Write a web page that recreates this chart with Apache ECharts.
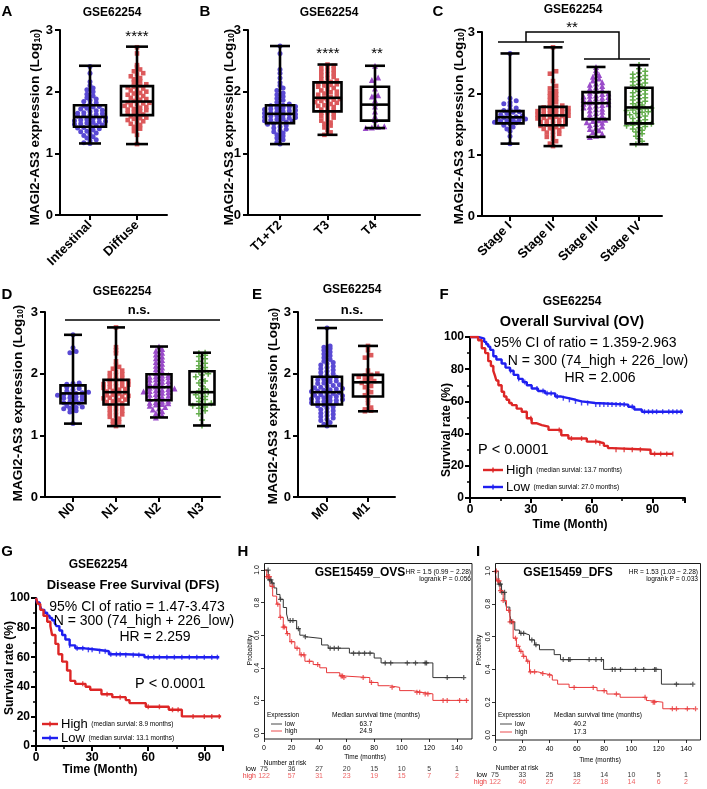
<!DOCTYPE html>
<html><head><meta charset="utf-8">
<script src="https://cdn.jsdelivr.net/npm/echarts@6/dist/echarts.min.js"></script>
<style>html,body{margin:0;padding:0;background:#fff}#c{width:707px;height:789px}</style>
</head><body><div id="c"></div><script>
// ---------------- DATA ----------------
const catsA = ['Intestinal', 'Diffuse'];
const boxA = [[1.16, 1.43, 1.59, 1.78, 2.42], [1.15, 1.62, 1.84, 2.09, 2.73]];
const ptsIntestinal = [1.16,1.17,1.20,1.22,1.25,1.27,1.29,1.31,1.33,1.35,1.36,1.38,1.40,1.41,1.42,
 1.44,1.45,1.46,1.47,1.48,1.49,1.50,1.51,1.52,1.53,1.54,1.55,1.56,1.57,1.58,
 1.60,1.61,1.62,1.63,1.64,1.65,1.66,1.68,1.69,1.70,1.72,1.73,1.75,1.76,1.77,
 1.80,1.82,1.84,1.86,1.88,1.90,1.93,1.96,2.00,2.03,2.06,2.10,2.16,2.30,2.41];
const ptsDiffuse = [1.15,1.30,1.36,1.40,1.43,1.46,1.48,1.50,1.52,1.54,1.56,1.57,1.58,1.60,1.61,
 1.63,1.65,1.66,1.68,1.70,1.71,1.72,1.74,1.75,1.77,1.78,1.80,1.81,1.82,1.83,
 1.85,1.87,1.88,1.90,1.92,1.93,1.95,1.97,1.98,2.00,2.02,2.03,2.05,2.07,2.08,
 2.10,2.12,2.15,2.17,2.20,2.22,2.25,2.28,2.30,2.33,2.36,2.40,2.43,2.62,2.72];

const catsB = ['T1+T2', 'T3', 'T4'];
const boxB = [[1.15, 1.49, 1.64, 1.78, 2.74], [1.30, 1.68, 1.90, 2.15, 2.44], [1.41, 1.53, 1.79, 2.08, 2.42]];
const ptsT12 = [1.15,1.18,1.22,1.25,1.28,1.30,1.33,1.35,1.37,1.39,1.41,1.43,1.45,1.47,1.48,
 1.50,1.51,1.52,1.53,1.54,1.55,1.56,1.57,1.58,1.59,1.60,1.61,1.62,1.63,1.635,
 1.65,1.66,1.67,1.68,1.69,1.70,1.71,1.72,1.73,1.74,1.75,1.76,1.77,1.775,1.78,
 1.80,1.83,1.86,1.89,1.92,1.95,1.98,2.02,2.06,2.10,2.15,2.22,2.30,2.36,2.62,2.74];
const ptsT3 = [1.30,1.34,1.38,1.42,1.45,1.48,1.50,1.53,1.55,1.58,1.60,1.62,1.64,1.66,1.67,
 1.69,1.71,1.73,1.75,1.77,1.78,1.80,1.82,1.83,1.85,1.86,1.87,1.88,1.89,1.895,
 1.91,1.93,1.95,1.97,1.99,2.00,2.02,2.04,2.06,2.08,2.10,2.11,2.12,2.13,2.14,
 2.16,2.18,2.20,2.22,2.24,2.26,2.28,2.30,2.32,2.34,2.36,2.38,2.40,2.42,2.44];
const ptsT4 = [2.42,2.23,2.19,2.05,1.95,1.94,1.92,1.86,1.81,1.76,1.68,1.60,1.54,1.44,1.43,1.42,1.41];

const catsC = ['Stage I', 'Stage II', 'Stage III', 'Stage IV'];
const boxC = [[1.18, 1.51, 1.61, 1.71, 2.65], [1.14, 1.48, 1.64, 1.78, 2.75], [1.29, 1.58, 1.84, 2.02, 2.43], [1.17, 1.51, 1.77, 2.09, 2.46]];
const ptsStageI = [1.18,1.30,1.38,1.42,1.45,1.48,1.50,1.52,1.53,1.54,1.55,1.56,1.57,1.58,1.59,1.60,
 1.61,1.62,1.63,1.65,1.67,1.69,1.70,1.72,1.74,1.76,1.80,1.83,1.85,1.88,1.92,2.65];
const ptsStageII = [1.14,1.18,1.22,1.26,1.29,1.32,1.34,1.36,1.38,1.40,1.42,1.43,1.45,1.46,1.47,
 1.49,1.50,1.51,1.52,1.53,1.55,1.56,1.57,1.58,1.59,1.60,1.61,1.62,1.63,1.635,
 1.65,1.66,1.67,1.68,1.69,1.70,1.71,1.72,1.73,1.74,1.75,1.76,1.77,1.775,1.78,
 1.80,1.83,1.86,1.89,1.92,1.95,1.98,2.01,2.04,2.08,2.12,2.20,2.32,2.36,2.75];
const ptsStageIII = [1.29,1.31,1.34,1.37,1.40,1.42,1.44,1.46,1.48,1.50,1.52,1.53,1.55,1.56,1.57,
 1.60,1.62,1.64,1.66,1.68,1.70,1.72,1.74,1.75,1.77,1.78,1.80,1.81,1.82,1.83,
 1.85,1.86,1.87,1.88,1.89,1.90,1.92,1.93,1.94,1.95,1.96,1.97,1.99,2.00,2.01,
 2.04,2.06,2.08,2.10,2.12,2.14,2.16,2.18,2.21,2.24,2.27,2.30,2.34,2.38,2.43];
const ptsStageIV = [1.17,1.22,1.26,1.30,1.34,1.37,1.40,1.42,1.44,1.46,1.47,1.48,1.49,1.50,1.505,
 1.53,1.55,1.57,1.59,1.61,1.63,1.65,1.67,1.69,1.70,1.72,1.73,1.74,1.75,1.76,
 1.79,1.81,1.83,1.85,1.87,1.89,1.91,1.93,1.95,1.97,1.99,2.01,2.03,2.05,2.07,
 2.11,2.13,2.15,2.17,2.19,2.21,2.23,2.25,2.27,2.29,2.31,2.33,2.36,2.40,2.46];

const catsD = ['N0', 'N1', 'N2', 'N3'];
const boxD = [[1.19, 1.52, 1.68, 1.81, 2.63], [1.15, 1.50, 1.70, 1.90, 2.75], [1.29, 1.57, 1.78, 1.99, 2.44], [1.16, 1.50, 1.70, 2.04, 2.34]];
const ptsN0 = [2.63,2.42,2.36,2.34,1.85,1.84,1.83,1.82,1.80,1.78,1.76,1.74,1.72,1.70,1.69,1.68,1.67,1.66,
 1.65,1.63,1.62,1.61,1.60,1.58,1.56,1.54,1.53,1.52,1.50,1.48,1.46,1.45,1.44,1.43,1.40,1.38,1.19];
const ptsN1 = [1.15,1.18,1.21,1.24,1.27,1.30,1.32,1.34,1.36,1.38,1.40,1.42,1.44,1.46,1.48,
 1.51,1.52,1.54,1.55,1.57,1.58,1.60,1.61,1.62,1.63,1.64,1.65,1.66,1.68,1.69,
 1.71,1.72,1.74,1.75,1.77,1.78,1.79,1.80,1.82,1.83,1.84,1.85,1.87,1.88,1.89,
 1.91,1.93,1.95,1.97,1.99,2.01,2.03,2.05,2.08,2.11,2.14,2.20,2.33,2.38,2.43,2.75];
const ptsN2 = [1.29,1.33,1.36,1.39,1.42,1.44,1.46,1.48,1.50,1.51,1.52,1.53,1.54,1.55,1.56,
 1.59,1.61,1.63,1.64,1.66,1.67,1.69,1.70,1.71,1.72,1.73,1.74,1.75,1.76,1.77,
 1.79,1.81,1.82,1.84,1.85,1.87,1.88,1.90,1.91,1.92,1.94,1.95,1.96,1.97,1.98,
 2.01,2.04,2.07,2.10,2.13,2.16,2.19,2.22,2.25,2.28,2.31,2.34,2.37,2.40,2.44];
const ptsN3 = [1.16,1.25,1.35,1.40,1.44,1.46,1.48,1.49,1.50,1.52,1.55,1.58,1.60,1.63,1.66,1.68,1.70,1.72,
 1.75,1.80,1.85,1.88,1.90,1.95,1.98,2.00,2.03,2.05,2.08,2.10,2.13,2.17,2.20,2.24,2.28,2.30,2.33,2.34];

const catsE = ['M0', 'M1'];
const boxE = [[1.15, 1.50, 1.70, 1.95, 2.74], [1.39, 1.63, 1.86, 1.98, 2.45]];
const ptsM0 = [1.15,1.18,1.21,1.24,1.26,1.28,1.30,1.32,1.34,1.36,1.38,1.40,1.42,1.44,1.46,1.48,1.49,
 1.51,1.52,1.53,1.54,1.55,1.56,1.57,1.58,1.59,1.60,1.61,1.62,1.63,1.64,1.65,1.66,1.67,1.68,1.69,
 1.71,1.72,1.73,1.74,1.75,1.76,1.77,1.78,1.80,1.81,1.82,1.84,1.85,1.87,1.88,1.90,1.91,1.92,1.94,
 1.96,1.98,2.00,2.02,2.04,2.06,2.08,2.10,2.12,2.14,2.16,2.18,2.20,2.23,2.26,2.29,2.32,2.35,2.38,2.41,2.43,2.45,2.74];
const ptsM1 = [2.45,2.38,2.30,2.26,2.05,2.00,1.98,1.97,1.95,1.92,1.90,1.88,1.86,1.85,1.80,1.78,
 1.72,1.70,1.65,1.62,1.58,1.52,1.45,1.42,1.40,1.39];

// F: GSE62254 overall survival (%)
const fHighT = [0, 4, 5.8, 7.5, 9, 10.3, 11.5, 12.3, 13, 14, 15.6, 16.8, 18, 19.3, 20.6, 23, 25.5, 28, 30.4, 33, 35.4, 38.7, 45, 48.5, 57.6, 63, 66, 68, 70, 89, 100];
const fHighS = [100, 98, 93, 90, 85, 82, 79, 76, 73, 70, 66, 63, 61, 59, 57.7, 55.5, 53.6, 49.5, 46.4, 45.3, 44.3, 42.3, 39, 37, 35, 34, 32.4, 31, 30, 27.4, 27.4];
const fLowT = [0, 4, 5.8, 7, 8, 9, 10, 11.5, 13, 15.6, 17.5, 19.7, 21.5, 23.8, 26, 28, 30.4, 33.5, 37, 42, 45, 48.5, 52, 55, 61.7, 78, 81, 84.7, 105];
const fLowS = [100, 99.5, 99, 97, 95.5, 94, 92, 88, 86, 83.5, 81, 79, 76.5, 74, 72, 70, 68, 66.5, 65, 63, 62, 61, 60, 59, 58, 56.7, 55, 53.6, 53.6];
const fHighCens = [30, 44, 50, 55, 62, 64, 72, 76, 80, 84, 91, 94, 97, 100];
const fLowCens = [20, 24, 27, 33, 36, 38, 40, 43, 46, 49, 52, 55, 58, 62, 64, 66, 68, 70, 72, 74, 76, 80, 86, 88, 90, 92, 95, 98, 100, 102, 104];
// G: GSE62254 disease free survival (%)
const gHighT = [0, 1, 2.3, 4, 6, 7.7, 8.6, 10.4, 12, 14, 16.6, 18.4, 21, 26.5, 29, 35, 40.8, 48, 50, 58.7, 71, 78, 99];
const gHighS = [100, 96, 92, 88, 84, 81, 75, 69, 62, 57, 51, 44, 42, 40, 38, 35, 33, 31, 29, 26.5, 24.5, 20, 20];
const gLowT = [0, 0.5, 2, 3, 4.5, 6, 7.3, 8.6, 10, 11, 12.5, 14, 15.7, 18, 21, 26, 33, 39, 48, 58, 98];
const gLowS = [100, 97, 95, 92, 90, 88, 86.5, 85, 83, 81, 78, 75, 72, 68, 66, 65, 64, 62, 61.5, 60, 60];
const gHighCens = [25, 38, 45, 60, 66, 73, 76, 84, 90, 94, 98];
const gLowCens = [18, 22, 25, 28, 30, 34, 37, 40, 43, 45, 48, 52, 55, 60, 63, 66, 70, 74, 78, 82, 86, 90, 94, 97];
// H: GSE15459 OVS (probability)
const hLowT = [0, 3.1, 5.5, 7.2, 9.2, 11.6, 14, 16.4, 17.6, 23.7, 26, 28.5, 31, 41.8, 46.6, 62, 80, 85, 122.6, 144];
const hLowS = [1, 0.94, 0.92, 0.89, 0.85, 0.82, 0.77, 0.73, 0.69, 0.64, 0.60, 0.59, 0.58, 0.54, 0.52, 0.49, 0.46, 0.43, 0.34, 0.34];
const hHighT = [0, 2, 4.3, 6.3, 9.2, 11.6, 14, 16.4, 18.8, 22.4, 26, 29.7, 35.7, 40.5, 45.4, 55, 57.4, 76.8, 82.8, 91, 98.5, 108, 114, 122.6, 148];
const hHighS = [1, 0.96, 0.90, 0.84, 0.79, 0.71, 0.65, 0.61, 0.56, 0.52, 0.48, 0.44, 0.42, 0.40, 0.37, 0.35, 0.34, 0.31, 0.29, 0.28, 0.26, 0.25, 0.24, 0.20, 0.20];
const hLowCens = [3, 4, 5, 6, 12, 19, 21, 25, 30, 48, 51, 54, 65, 69, 73, 77, 88, 92, 104, 110, 117, 118, 133, 145];
const hHighCens = [2, 3, 4, 6, 10, 12, 14, 15, 17, 20, 24, 27, 29, 33, 39, 56, 57, 58, 72, 78, 93, 111, 113, 117, 119, 130, 133, 142, 147];
// I: GSE15459 DFS (probability)
const iLowT = [0, 2.4, 4.8, 7.2, 8.4, 10.9, 12, 14.5, 18, 21.7, 25.3, 29, 32.6, 43.4, 48, 79.6, 122, 144];
const iLowS = [1, 0.92, 0.87, 0.82, 0.78, 0.73, 0.69, 0.64, 0.62, 0.61, 0.58, 0.55, 0.52, 0.49, 0.46, 0.40, 0.31, 0.31];
const iHighT = [0, 1.2, 3.6, 6, 8.4, 10.9, 13.3, 15.7, 18, 20.5, 23, 25.3, 31.4, 36.2, 42, 45.9, 54.3, 74.8, 82, 91.7, 111, 113, 123, 146];
const iHighS = [1, 0.94, 0.88, 0.82, 0.76, 0.69, 0.59, 0.54, 0.51, 0.48, 0.45, 0.385, 0.375, 0.365, 0.335, 0.31, 0.29, 0.27, 0.25, 0.23, 0.21, 0.20, 0.16, 0.16];
const iLowCens = [3, 4, 5, 7, 12, 19, 21, 27, 30, 50, 54, 55, 69, 74, 78, 86, 88, 92, 103, 109, 117, 118, 133, 145];
const iHighCens = [1, 2, 3, 4, 6, 10, 11, 13, 15, 17, 19, 21, 24, 26, 29, 35, 40, 58, 72, 80, 89, 110, 116, 117, 130, 133, 141, 147];
// risk tables
const riskTimes = [0, 20, 40, 60, 80, 100, 120, 140];
const hRiskLow = [75, 36, 27, 20, 15, 10, 5, 1];
const hRiskHigh = [122, 57, 31, 23, 19, 15, 7, 2];
const iRiskLow = [75, 33, 25, 18, 14, 10, 5, 1];
const iRiskHigh = [122, 46, 27, 22, 18, 14, 6, 2];

// ---------------- STYLE / LAYOUT ----------------
const FONT = '"Liberation Sans", Arial, Helvetica, sans-serif';
const COL = {blue: '#5a4ad4', red: '#dc5a5c', purple: '#9a4bc9', green: '#63ad4c'};
const PLUS = 'path://M3,0H5V3H8V5H5V8H3V5H0V3H3Z';
const SYM = {blue: 'circle', red: 'rect', purple: 'triangle', green: PLUS};
const SYMSIZE = {blue: 5, red: 4.6, purple: 6, green: 6};

const grids = [], xAxes = [], yAxes = [], series = [], graphics = [];

function txt(x, y, text, o) {
  o = o || {};
  graphics.push({type: 'text', x: x, y: y, rotation: o.rot || 0, z: 100, silent: true,
    style: {text: text, font: (o.weight || 'normal') + ' ' + (o.size || 13) + 'px ' + FONT,
      fill: o.color || '#000', align: o.align || 'center', verticalAlign: o.va || 'middle',
      textAlign: o.align || 'center', textVerticalAlign: o.va || 'middle', rich: o.rich}});
}
function poly(points, o) {
  o = o || {};
  graphics.push({type: 'polyline', z: 100, silent: true, shape: {points: points},
    style: {stroke: o.color || '#000', lineWidth: o.w || 1.5, fill: null}});
}

function swarm(vals, maxW, stepPx, binW) {
  const sorted = vals.slice().sort((a, b) => a - b);
  const bins = {};
  sorted.forEach(v => { const k = Math.round(v / binW); (bins[k] = bins[k] || []).push(v); });
  const out = [];
  Object.keys(bins).forEach(key => {
    const arr = bins[key], m = arr.length;
    const step = m > 1 ? Math.min(stepPx, maxW / (m - 1)) : 0;
    arr.forEach((v, k) => out.push([(k - (m - 1) / 2) * step, v]));
  });
  return out;
}

function boxRender(bw, cw) {
  return function (params, api) {
    const i = api.value(0);
    const c = v => api.coord([i, v]);
    const pMin = c(api.value(1)), pQ1 = c(api.value(2)), pMed = c(api.value(3)), pQ3 = c(api.value(4)), pMax = c(api.value(5));
    const x = pMed[0], h = bw / 2, hc = cw / 2;
    const st = {stroke: '#000', lineWidth: 2.6, fill: null};
    return {type: 'group', children: [
      {type: 'line', shape: {x1: x, y1: pMax[1], x2: x, y2: pMin[1]}, style: st},
      {type: 'rect', shape: {x: x - h, y: pQ3[1], width: bw, height: pQ1[1] - pQ3[1]}, style: {stroke: '#000', lineWidth: 2.6, fill: 'none'}},
      {type: 'line', shape: {x1: x - h, y1: pMed[1], x2: x + h, y2: pMed[1]}, style: st},
      {type: 'line', shape: {x1: x - hc, y1: pMax[1], x2: x + hc, y2: pMax[1]}, style: st},
      {type: 'line', shape: {x1: x - hc, y1: pMin[1], x2: x + hc, y2: pMin[1]}, style: st}
    ]};
  };
}

const YNAME = '{a|MAGI2-AS3 expression (Log}{s|10}{a|)}';
const YRICH = {a: {font: 'bold 13.6px ' + FONT, fill: '#000'}, s: {font: 'bold 8.5px ' + FONT, fill: '#000', verticalAlign: 'bottom'}};

function addBoxPanel(p) {
  const gi = grids.length;
  grids.push({left: p.left, top: p.top, width: p.width, height: p.height});
  const min = -(p.x0 - p.left) / p.sp, max = min + p.width / p.sp;
  const idx = p.cats.map((c, i) => i);
  const xi = xAxes.length;
  xAxes.push({type: 'value', gridIndex: gi, min: min, max: max, splitLine: {show: false},
    axisLine: {show: true, onZero: false, lineStyle: {color: '#000', width: 2}},
    axisTick: {show: true, customValues: idx, length: 5, lineStyle: {color: '#000', width: 2}},
    axisLabel: {show: true, customValues: idx, formatter: v => p.cats[Math.round(v)] || '', rotate: 45,
      color: '#000', fontFamily: FONT, fontWeight: 'bold', fontSize: 13, margin: 8}});
  const yi = yAxes.length;
  yAxes.push({type: 'value', gridIndex: gi, min: 0, max: 3, interval: 1, splitLine: {show: false},
    axisLine: {show: true, onZero: false, lineStyle: {color: '#000', width: 2}},
    axisTick: {show: true, length: 5, lineStyle: {color: '#000', width: 2}},
    axisLabel: {color: '#000', fontFamily: FONT, fontWeight: 'bold', fontSize: 13, margin: 7}});
  p.pts.forEach((vals, g) => {
    const cname = p.colors[g];
    const sw = swarm(vals, p.boxW * 1.3, 6.2, 0.06);
    series.push({type: 'scatter', xAxisIndex: xi, yAxisIndex: yi, silent: true, z: 2,
      symbol: SYM[cname], symbolSize: SYMSIZE[cname], itemStyle: {color: COL[cname], opacity: 1},
      data: sw.map(d => [g + d[0] / p.sp, d[1]])});
  });
  series.push({type: 'custom', xAxisIndex: xi, yAxisIndex: yi, silent: true, z: 5,
    data: p.boxes.map((b, i) => [i].concat(b)), renderItem: boxRender(p.boxW, p.capW)});
  txt(p.ynX, p.ynY, YNAME, {rot: Math.PI / 2, rich: YRICH, size: 13.6, weight: 'bold'});
}

function stepAt(T, S, t) { let s = S[0]; for (let i = 0; i < T.length; i++) { if (T[i] <= t) s = S[i]; else break; } return s; }

function addKM(p) {
  const gi = grids.length;
  grids.push({left: p.left, top: p.top, width: p.width, height: p.height});
  const ax = {axisLine: {show: true, onZero: false, lineStyle: {color: '#000', width: 2}},
    axisTick: {show: true, length: 5, lineStyle: {color: '#000', width: 2}},
    minorTick: {show: true, splitNumber: 2, length: 3, lineStyle: {color: '#000', width: 1.5}},
    splitLine: {show: false},
    axisLabel: {color: '#000', fontFamily: FONT, fontWeight: 'bold', fontSize: 12, margin: 6, showMaxLabel: false}};
  const xi = xAxes.length;
  xAxes.push(Object.assign({type: 'value', gridIndex: gi, min: 0, max: p.xmax, interval: 30}, ax));
  const yi = yAxes.length;
  yAxes.push(Object.assign({type: 'value', gridIndex: gi, min: 0, max: 100, interval: 20}, ax,
    {axisLabel: Object.assign({}, ax.axisLabel, {showMaxLabel: true})}));
  p.curves.forEach(c => {
    series.push({type: 'line', xAxisIndex: xi, yAxisIndex: yi, step: 'end', showSymbol: false, silent: true, z: 4,
      lineStyle: {color: c.color, width: 2.4}, data: c.T.map((t, i) => [t, c.S[i]])});
    series.push({type: 'scatter', xAxisIndex: xi, yAxisIndex: yi, silent: true, z: 4, symbol: 'rect', symbolSize: [1.4, 5],
      itemStyle: {color: c.color}, data: c.cens.map(t => [t, stepAt(c.T, c.S, t)])});
  });
}

function addRKM(p) {
  const gi = grids.length;
  grids.push({left: p.left, top: p.top, width: p.width, height: p.height});
  const xi = xAxes.length;
  xAxes.push({type: 'value', gridIndex: gi, min: 0, max: 151, interval: 20, offset: p.xoff, splitLine: {show: false},
    axisLine: {show: false, onZero: false}, axisTick: {show: true, length: 3, lineStyle: {color: '#000', width: 0.8}},
    axisLabel: {color: '#000', fontFamily: FONT, fontSize: 7, margin: 6, showMaxLabel: false}});
  const yi = yAxes.length;
  yAxes.push({type: 'value', gridIndex: gi, min: 0, max: 1, interval: 0.2, splitLine: {show: false},
    axisLine: {show: false, onZero: false}, axisTick: {show: true, length: 3, lineStyle: {color: '#000', width: 0.8}},
    axisLabel: {color: '#000', fontFamily: FONT, fontSize: 7, margin: 3, rotate: 90, formatter: v => v.toFixed(1)}});
  p.curves.forEach(c => {
    series.push({type: 'line', xAxisIndex: xi, yAxisIndex: yi, step: 'end', showSymbol: false, silent: true, z: 4,
      lineStyle: {color: c.color, width: 1}, data: c.T.map((t, i) => [t, c.S[i]])});
    series.push({type: 'scatter', xAxisIndex: xi, yAxisIndex: yi, silent: true, z: 4, symbol: PLUS, symbolSize: 5,
      itemStyle: {color: c.color}, data: c.cens.map(t => [t, stepAt(c.T, c.S, t)])});
  });
  graphics.push({type: 'rect', z: 50, silent: true, shape: {x: p.box[0], y: p.box[1], width: p.box[2], height: p.box[3]},
    style: {stroke: '#000', lineWidth: 0.9, fill: 'none'}});
  // risk table
  const gr = grids.length;
  grids.push({left: p.left, top: p.riskTop, width: p.width, height: 14});
  const xr = xAxes.length;
  xAxes.push({type: 'value', gridIndex: gr, min: 0, max: 151, show: false});
  const yr = yAxes.length;
  yAxes.push({type: 'category', gridIndex: gr, data: ['high', 'low'], axisLine: {show: false}, axisTick: {show: false},
    axisLabel: {interval: 0, fontFamily: FONT, fontSize: 7, margin: 8, formatter: v => '{' + v + '|' + v + '}',
      rich: {low: {color: '#000', fontSize: 7, fontFamily: FONT}, high: {color: '#e8383a', fontSize: 7, fontFamily: FONT}}}});
  [['low', p.riskLow, '#000'], ['high', p.riskHigh, '#e8383a']].forEach(r => {
    series.push({type: 'scatter', xAxisIndex: xr, yAxisIndex: yr, silent: true, symbolSize: 1, itemStyle: {color: 'rgba(0,0,0,0)'},
      label: {show: true, position: 'inside', formatter: q => q.value[2], color: r[2], fontSize: 7, fontFamily: FONT},
      data: riskTimes.map((t, i) => [t, r[0], r[1][i]])});
  });
}

// ---------------- PANELS ----------------
addBoxPanel({left: 60, top: 30, width: 107, height: 185, x0: 90, sp: 47, boxW: 32, capW: 22, cats: catsA, boxes: boxA,
  pts: [ptsIntestinal, ptsDiffuse], colors: ['blue', 'red'], ynX: 35, ynY: 127});
addBoxPanel({left: 248, top: 30, width: 172, height: 185, x0: 280, sp: 47.5, boxW: 28, capW: 20, cats: catsB, boxes: boxB,
  pts: [ptsT12, ptsT3, ptsT4], colors: ['blue', 'red', 'purple'], ynX: 229, ynY: 127});
addBoxPanel({left: 482, top: 32, width: 180, height: 184, x0: 510, sp: 43, boxW: 27, capW: 19, cats: catsC, boxes: boxC,
  pts: [ptsStageI, ptsStageII, ptsStageIII, ptsStageIV], colors: ['blue', 'red', 'purple', 'green'], ynX: 459, ynY: 126});
addBoxPanel({left: 45, top: 312, width: 175, height: 185, x0: 73, sp: 43, boxW: 25, capW: 18, cats: catsD, boxes: boxD,
  pts: [ptsN0, ptsN1, ptsN2, ptsN3], colors: ['blue', 'red', 'purple', 'green'], ynX: 18, ynY: 403});
addBoxPanel({left: 298, top: 312, width: 97, height: 185, x0: 327, sp: 41, boxW: 30, capW: 20, cats: catsE, boxes: boxE,
  pts: [ptsM0, ptsM1], colors: ['blue', 'red'], ynX: 273, ynY: 406});

const KRED = '#dd2626', KBLUE = '#1f1ff0';
addKM({left: 470, top: 337, width: 215, height: 161, xmax: 106, curves: [
  {T: fLowT, S: fLowS, cens: fLowCens, color: KBLUE}, {T: fHighT, S: fHighS, cens: fHighCens, color: KRED}]});
addKM({left: 36, top: 598, width: 187, height: 148, xmax: 100, curves: [
  {T: gLowT, S: gLowS, cens: gLowCens, color: KBLUE}, {T: gHighT, S: gHighS, cens: gHighCens, color: KRED}]});

const RBLACK = '#333333', RRED = '#e8383a';
addRKM({left: 264, top: 570, width: 208, height: 163, xoff: 6, box: [264.5, 563.5, 207.5, 175.5], riskTop: 766,
  riskLow: hRiskLow, riskHigh: hRiskHigh, curves: [
  {T: hLowT, S: hLowS, cens: hLowCens, color: RBLACK}, {T: hHighT, S: hHighS, cens: hHighCens, color: RRED}]});
addRKM({left: 495, top: 571, width: 206, height: 164, xoff: 5, box: [495.5, 563.5, 205, 176.5], riskTop: 772,
  riskLow: iRiskLow, riskHigh: iRiskHigh, curves: [
  {T: iLowT, S: iLowS, cens: iLowCens, color: RBLACK}, {T: iHighT, S: iHighS, cens: iHighCens, color: RRED}]});

// ---------------- TEXT ----------------
[['A', 7, 12], ['B', 205, 12], ['C', 438, 12], ['D', 7, 295], ['E', 257, 295], ['F', 444, 295], ['G', 7, 552], ['H', 243, 552], ['I', 478, 552]]
  .forEach(l => txt(l[1], l[2], l[0], {weight: 'bold', size: 15}));
[[112, 13], [329, 13], [573, 10], [122, 292], [352, 290]].forEach(t => txt(t[0], t[1], 'GSE62254', {weight: 'bold', size: 12}));
txt(137, 37, '****', {size: 15});
txt(328, 54, '****', {size: 15});
txt(377, 54, '**', {size: 15});
txt(572, 28, '**', {size: 15});
poly([[498, 42], [564, 42]]); poly([[584, 59], [650, 59]]);
poly([[526, 42], [526, 32], [619, 32], [619, 59]]);
txt(139, 310, 'n.s.', {weight: 'bold', size: 13});
poly([[65, 320], [220, 320]]);
txt(352, 310, 'n.s.', {weight: 'bold', size: 13});
poly([[315, 320], [383, 320]]);

// F
txt(572, 302, 'GSE62254', {weight: 'bold', size: 12});
txt(572, 322, 'Overall Survival (OV)', {weight: 'bold', size: 14.5});
txt(585, 343, '95% CI of ratio = 1.359-2.963', {size: 14});
txt(598, 361, 'N = 300 (74_high + 226_low)', {size: 14});
txt(600, 378, 'HR = 2.006', {size: 14});
txt(478, 450, 'P < 0.0001', {size: 14.5, align: 'left'});
txt(447, 430, 'Survival rate (%)', {weight: 'bold', size: 12, rot: Math.PI / 2});
txt(570, 525, 'Time (Month)', {weight: 'bold', size: 12});
const LRICH = {b: {font: '13px ' + FONT, fill: '#000'}, s: {font: '6.5px ' + FONT, fill: '#000'}};
function kmLegend(x1, x2, y, color, label, note) {
  poly([[x1, y], [x2, y]], {color: color, w: 2.4});
  poly([[(x1 + x2) / 2, y - 2.5], [(x1 + x2) / 2, y + 2.5]], {color: color, w: 1.4});
  txt(x2 + 3, y, '{b|' + label + '} {s|' + note + '}', {align: 'left', rich: LRICH});
}
kmLegend(483, 503, 470, KRED, 'High', '(median survial: 13.7 months)');
kmLegend(483, 503, 487, KBLUE, 'Low', '(median survial: 27.0 months)');

// G
txt(98, 565, 'GSE62254', {weight: 'bold', size: 12});
txt(133, 585, 'Disease Free Survival (DFS)', {weight: 'bold', size: 13});
txt(137, 607, '95% CI of ratio = 1.47-3.473', {size: 14});
txt(144, 621, 'N = 300 (74_high + 226_low)', {size: 14});
txt(155, 637, 'HR = 2.259', {size: 14});
txt(135, 684, 'P < 0.0001', {size: 14.5, align: 'left'});
txt(10, 668, 'Survival rate (%)', {weight: 'bold', size: 12, rot: Math.PI / 2});
txt(100, 770, 'Time (Month)', {weight: 'bold', size: 12});
kmLegend(42, 58, 724, KRED, 'High', '(median survial: 8.9 months)');
kmLegend(42, 58, 738, KBLUE, 'Low', '(median survial: 13.1 months)');

// H
txt(360, 573, 'GSE15459_OVS', {weight: 'bold', size: 12});
txt(471, 572, 'HR = 1.5 (0.99 \u2212 2.28)', {size: 6.6, align: 'right'});
txt(471, 579, 'logrank P = 0.056', {size: 6.6, align: 'right'});
txt(267, 715, 'Expression', {size: 6.5, align: 'left'});
poly([[271, 724], [282, 724]], {color: RBLACK, w: 0.9}); txt(285, 724, 'low', {size: 6.5, align: 'left'});
poly([[271, 731], [282, 731]], {color: RRED, w: 0.9}); txt(285, 731, 'high', {size: 6.5, align: 'left'});
txt(376, 715, 'Median survival time (months)', {size: 6.6});
txt(366, 724, '63.7', {size: 6.6}); txt(366, 731, '24.9', {size: 6.6});
txt(365, 757, 'Time (months)', {size: 6.5});
txt(285, 763, 'Number at risk', {size: 6.5});
txt(250, 650, 'Probability', {size: 6.5, rot: Math.PI / 2});

// I
txt(568, 573, 'GSE15459_DFS', {weight: 'bold', size: 12});
txt(698, 572, 'HR = 1.53 (1.03 \u2212 2.28)', {size: 6.6, align: 'right'});
txt(698, 579, 'logrank P = 0.033', {size: 6.6, align: 'right'});
txt(498, 715, 'Expression', {size: 6.5, align: 'left'});
poly([[500, 724], [512, 724]], {color: RBLACK, w: 0.9}); txt(515, 724, 'low', {size: 6.5, align: 'left'});
poly([[500, 732], [512, 732]], {color: RRED, w: 0.9}); txt(515, 732, 'high', {size: 6.5, align: 'left'});
txt(598, 715, 'Median survival time (months)', {size: 6.6});
txt(580, 724, '40.2', {size: 6.6}); txt(580, 732, '17.3', {size: 6.6});
txt(600, 760, 'Time (months)', {size: 6.5});
txt(517, 768, 'Number at risk', {size: 6.5});
txt(479, 650, 'Probability', {size: 6.5, rot: Math.PI / 2});

const chart = echarts.init(document.getElementById('c'), null, {renderer: 'canvas', width: 707, height: 789});
chart.setOption({animation: false, backgroundColor: '#fff', grid: grids, xAxis: xAxes, yAxis: yAxes, series: series, graphic: graphics});
</script></body></html>
